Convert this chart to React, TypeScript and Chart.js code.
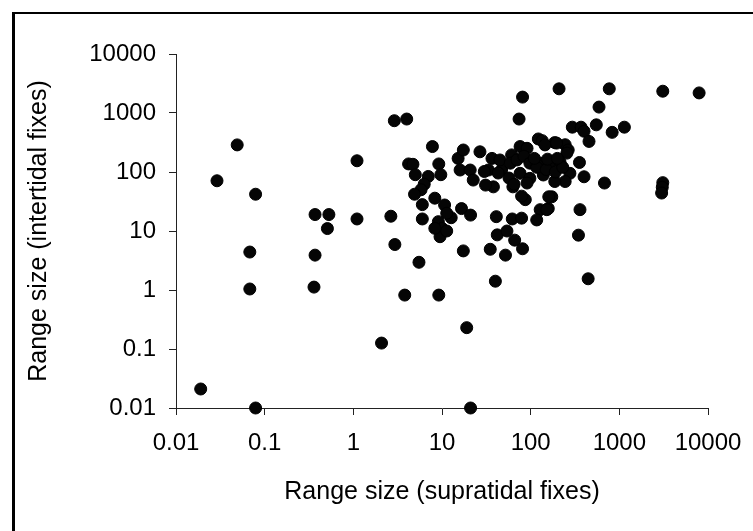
import { useEffect, useRef } from "react";
import { Chart, registerables } from "chart.js";

Chart.register(...registerables);

const xValues = [
  0.019, 0.079, 0.049, 0.029, 0.079, 0.068, 0.068, 0.37, 0.53, 0.51,
  0.37, 0.36, 1.1, 1.1, 2.08, 2.9, 4.0, 2.65, 2.94, 3.8,
  5.5, 9.2, 7.8, 4.2, 4.7, 5.0, 7.0, 6.3, 5.8, 4.9,
  6.0, 6.0, 8.3, 9.2, 9.7, 10.7, 9.1, 10, 9.5, 11.3,
  8.3, 12.7, 16.6, 21, 17.4, 41, 62, 79, 42, 54,
  66, 35, 52, 81, 40, 445, 19, 21, 346, 360,
  680, 3090, 3050, 3000, 400, 355, 209, 770, 3090, 7940,
  81, 74, 590, 295, 370, 400, 455, 550, 830, 1140,
  122, 135, 187, 245, 265, 15.2, 17.4, 16, 20.8, 26.8,
  36.6, 33.4, 47, 45, 61, 76, 91, 59, 76, 98,
  38, 31, 22.5, 63, 87, 70, 84, 57, 65, 91,
  43, 30, 79, 145, 196, 256, 98, 128, 165, 214,
  277, 245, 187, 139, 173, 128, 158, 117, 152, 160,
  117, 150, 190, 230, 110, 155, 200, 11.3,
];

const yValues = [
  0.021, 0.01, 288, 71, 42, 4.4, 1.04, 19, 19, 11,
  3.9, 1.12, 155, 16, 0.126, 740, 790, 17.8, 5.9, 0.82,
  2.95, 0.82, 270, 137, 135, 90, 84, 62, 50, 42,
  28, 16, 36, 137, 90, 27.6, 14.4, 11.1, 8, 10,
  11.1, 16.8, 24, 18.6, 4.6, 17.5, 16, 16.5, 8.6, 10,
  7.0, 4.9, 3.9, 5.0, 1.41, 1.55, 0.23, 0.01, 8.5, 23,
  65, 66, 55, 44, 83, 145, 2570, 2570, 2340, 2190,
  1860, 790, 1260, 575, 575, 490, 330, 630, 470, 575,
  363, 340, 315, 290, 236, 170, 236, 108, 108, 220,
  170, 108, 108, 160, 195, 270, 252, 141, 95, 78,
  56, 60, 73, 56, 34, 160, 185, 79, 62, 65,
  96, 102, 39, 288, 309, 209, 141, 141, 141, 149,
  95, 69, 69, 89, 38, 23, 24, 15.4, 23, 38,
  120, 110, 100, 120, 170, 165, 170, 20,
];

const tickValues = [0.01, 0.1, 1, 10, 100, 1000, 10000];
const tickLabels = ["0.01", "0.1", "1", "10", "100", "1000", "10000"];
const xTitle = "Range size (supratidal fixes)";
const yTitle = "Range size (intertidal fixes)";

const FONT = "'Liberation Sans', Arial, Helvetica, sans-serif";

export default function App() {
  const ref = useRef<HTMLCanvasElement | null>(null);

  useEffect(() => {
    if (!ref.current) return;
    const zeroPad = (s: any) => {
      s.paddingLeft = 0;
      s.paddingRight = 0;
      s.paddingTop = 0;
      s.paddingBottom = 0;
    };
    const axisCommon = (title: string) => ({
      type: "logarithmic" as const,
      min: 0.01,
      max: 10000,
      afterBuildTicks: (s: any) => {
        s.ticks = tickValues.map((v) => ({ value: v }));
      },
      ticks: {
        callback: (_v: any, i: number) => tickLabels[i],
        font: { family: FONT, size: 24 },
        color: "#000",
        autoSkip: false,
        maxRotation: 0,
        minRotation: 0,
      },
      grid: {
        drawOnChartArea: false,
        drawTicks: true,
        tickLength: 7,
        color: "#222",
        lineWidth: 1,
      },
      border: { display: true, color: "#222", width: 1 },
      title: {
        display: true,
        text: title,
        color: "#000",
        font: { family: FONT, size: 25 },
        padding: { top: 0, bottom: 0 },
      },
    });

    const xAxis: any = axisCommon(xTitle);
    xAxis.position = "bottom";
    xAxis.ticks.padding = 14;
    xAxis.afterFit = (s: any) => {
      s.height = 99;
      zeroPad(s);
    };
    const yAxis: any = axisCommon(yTitle);
    yAxis.position = "left";
    yAxis.ticks.padding = 13;
    yAxis.afterFit = (s: any) => {
      s.width = 152;
      zeroPad(s);
    };

    const chart = new Chart(ref.current, {
      type: "scatter",
      data: {
        datasets: [
          {
            data: xValues.map((x, i) => ({ x, y: yValues[i] })),
            pointRadius: 6,
            pointHoverRadius: 6,
            backgroundColor: "#050505",
            borderColor: "#000",
            borderWidth: 1,
            clip: false as any,
          },
        ],
      },
      options: {
        animation: false,
        responsive: false,
        devicePixelRatio: 1,
        layout: { padding: { left: 24, top: 54, right: 45, bottom: 24 } },
        plugins: { legend: { display: false }, tooltip: { enabled: false } },
        scales: { x: xAxis, y: yAxis },
      },
    });
    return () => chart.destroy();
  }, []);

  return (
    <div
      style={{
        position: "fixed",
        left: 0,
        top: 0,
        width: 753,
        height: 531,
        background: "#fff",
        overflow: "hidden",
      }}
    >
      <div
        style={{
          position: "absolute",
          left: 12,
          top: 12,
          width: 760,
          height: 540,
          borderLeft: "3px solid #000",
          borderTop: "2px solid #000",
        }}
      />
      <canvas
        ref={ref}
        width={753}
        height={531}
        style={{ position: "absolute", left: 0, top: 0, width: 753, height: 531 }}
      />
    </div>
  );
}
